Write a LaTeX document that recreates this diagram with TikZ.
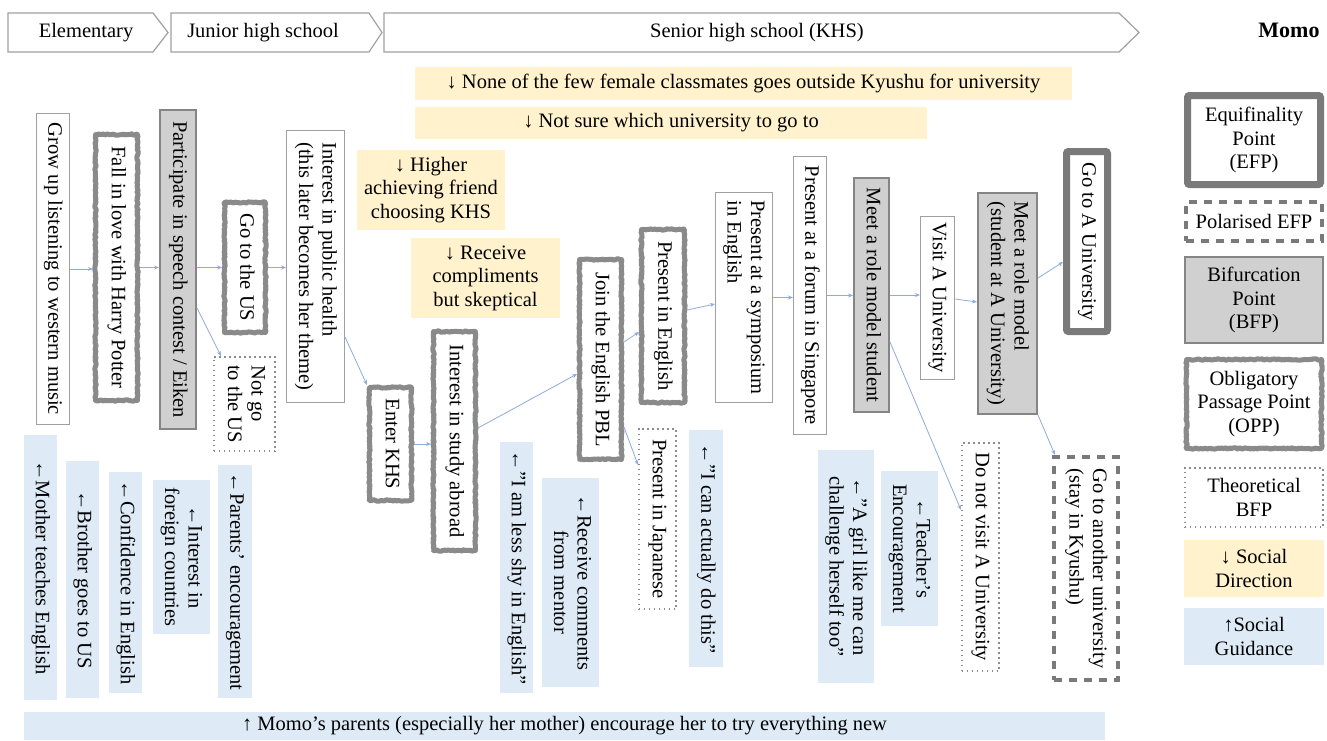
\documentclass[tikz,border=0pt]{standalone}
\usepackage{fontspec}
\setmainfont{Liberation Serif}
\usepackage{graphicx}
\usetikzlibrary{arrows.meta,decorations.pathmorphing,calc}

\definecolor{bordergray}{HTML}{A0A0A0}
\definecolor{oppgray}{HTML}{8A8A8A}
\definecolor{bfpfill}{HTML}{D0D0D0}
\definecolor{bfpborder}{HTML}{858585}
\definecolor{efpgray}{HTML}{7A7A7A}
\definecolor{dotgray}{HTML}{8C8C8C}
\definecolor{sdyellow}{HTML}{FFF2CC}
\definecolor{sgblue}{HTML}{DEEBF7}
\definecolor{connblue}{HTML}{8FAADC}

\newcommand\fs{\fontsize{20.5}{23.5}\selectfont}
\newcommand\rtl[1]{\rotatebox{-90}{\begin{tabular}{@{}l@{}}#1\end{tabular}}}
\newcommand\rtc[1]{\rotatebox{-90}{\begin{tabular}{@{}c@{}}#1\end{tabular}}}

% [inset]{style}{name}{x1}{y1}{x2}{y2}{text}
\newcommand\BX[8][0]{%
  \pgfmathsetmacro\bxcx{(#4+#6)/2}%
  \pgfmathsetmacro\bxcy{(#5+#7)/2}%
  \pgfmathsetmacro\bxw{#6-#4-2*#1}%
  \pgfmathsetmacro\bxh{#7-#5-2*#1}%
  \node[#2, minimum width=\bxw pt, minimum height=\bxh pt, outer sep=#1pt] (#3) at (\bxcx,\bxcy) {#8};}

\tikzset{
  base/.style={inner sep=0pt, font=\fs, align=center},
  plain/.style={base, draw=bordergray, line width=1.2pt, fill=white},
  opp/.style={base, draw=oppgray, line width=5pt, fill=white, line join=round,
    decorate, decoration={random steps, segment length=1.6pt, amplitude=0.7pt}},
  bfp/.style={base, draw=bfpborder, line width=2.4pt, fill=bfpfill},
  efp/.style={base, draw=efpgray, line width=7pt, fill=white, rounded corners=2pt},
  pefp/.style={base, draw=efpgray, line width=4pt, dash pattern=on 8pt off 7pt, fill=white},
  tbfp/.style={base, draw=dotgray, line width=1.6pt, dash pattern=on 1.6pt off 3.4pt, fill=white},
  sdir/.style={base, fill=sdyellow},
  sgui/.style={base, fill=sgblue},
  hdr/.style={draw=bordergray, line width=1.2pt, fill=white},
  conn/.style={draw=connblue, line width=0.8pt, -{Stealth[length=5pt,width=4pt]}},
}

\begin{document}
\begin{tikzpicture}[x=1pt,y=-1pt]
\useasboundingbox (0,0) rectangle (1327,740);
\fill[white] (0,0) rectangle (1327,740);

% ---- header
\draw[hdr] (8,13) -- (153,13) -- (168,32.5) -- (153,52) -- (8,52) -- cycle;
\node[base] (helem) at (86,32.5) {Elementary};
\draw[hdr] (171,13) -- (369,13) -- (382,32.5) -- (369,52) -- (171,52) -- cycle;
\node[base] (hjun) at (263,32.5) {Junior high school};
\draw[hdr] (384,13) -- (1119,13) -- (1139,32.5) -- (1119,52) -- (384,52) -- cycle;
\node[base] (hsen) at (757,32.5) {Senior high school (KHS)};

\node[font=\fontsize{22}{26}\selectfont\bfseries] (momo) at (1289,30) {Momo};

% ---- social direction
\BX{sdir}{sd1}{415}{67}{1072}{100}{↓ None of the few female classmates goes outside Kyushu for university}
\BX{sdir}{sd2}{415}{107}{927}{139}{↓ Not sure which university to go to}
\BX{sdir}{sd3}{357}{150}{505}{230}{↓ Higher\\achieving friend\\choosing KHS}
\BX{sdir}{sd4}{411}{238}{560}{318}{↓ Receive\\compliments\\but skeptical}

% ---- main path
\BX[0.6]{plain}{grow}{36}{113}{70}{425}{\rtl{Grow up listening to western music}}
\BX[2.5]{opp}{fall}{93}{132}{140}{403}{\rtl{Fall in love with Harry Potter}}
\BX[1.2]{bfp}{part}{159}{109}{197}{430}{\rtl{Participate in speech contest / Eiken}}
\BX[2.5]{opp}{gous}{222}{200}{268}{335}{\rtl{Go to the US}}
\BX[0.8]{tbfp}{notgo}{213}{356}{276}{452}{\rtl{Not go\\to the US}}
\BX[0.6]{plain}{health}{286}{130}{345}{403}{\rtl{Interest in public health\\(this later becomes her theme)}}
\BX[2.5]{opp}{enter}{367}{385}{414}{503}{\rtl{Enter KHS}}
\BX[2.5]{opp}{abroad}{431}{329}{478}{553}{\rtl{Interest in study abroad}}
\BX[2.5]{opp}{pbl}{577}{257}{624}{462}{\rtl{Join the English PBL}}
\BX[2.5]{opp}{pe}{639}{227}{687}{405}{\rtl{Present in English}}
\BX[0.8]{tbfp}{pj}{638}{428}{677}{610}{\rtl{Present in Japanese}}
\BX[0.6]{plain}{symp}{715}{192}{773}{403}{\rtl{Present at a symposium\\in English}}
\BX[0.6]{plain}{forum}{793}{156}{827}{435}{\rtl{Present at a forum in Singapore}}
\BX[1.2]{bfp}{role1}{853}{177}{890}{413}{\rtl{Meet a role model student}}
\BX[0.6]{plain}{visit}{920}{216}{955}{380}{\rtl{Visit A University}}
\BX[1.2]{bfp}{role2}{977}{192}{1038}{415}{\rtl{Meet a role model\\(student at A University)}}
\BX[3.5]{efp}{goA}{1063}{148}{1111}{335}{\rtl{Go to A University}}
\BX[0.8]{tbfp}{notvisit}{961}{442}{1000}{672}{\rtl{Do not visit A University}}
\BX[2]{pefp}{another}{1052}{455}{1120}{682}{\rtl{Go to another university\\(stay in Kyushu)}}

% ---- social guidance
\BX{sgui}{sg1}{24}{435}{57}{700}{\rtc{←Mother teaches English}}
\BX{sgui}{sg2}{66}{461}{99}{698}{\rtc{←Brother goes to US}}
\BX{sgui}{sg3}{109}{472}{142}{693}{\rtc{←Confidence in English}}
\BX{sgui}{sg4}{153}{480}{210}{634}{\rtc{←Interest in\\foreign countries}}
\BX{sgui}{sg5}{218}{465}{252}{698}{\rtc{←Parents’ encouragement}}
\BX{sgui}{sg6}{500}{442}{533}{693}{\rtc{←”I am less shy in English”}}
\BX{sgui}{sg7}{542}{478}{599}{687}{\rtc{←Receive comments\\from mentor}}
\BX{sgui}{sg8}{689}{430}{723}{667}{\rtc{←”I can actually do this”}}
\BX{sgui}{sg9}{818}{450}{874}{683}{\rtc{←”A girl like me can\\challenge herself too”}}
\BX{sgui}{sg10}{881}{471}{938}{626}{\rtc{←Teacher’s\\Encouragement}}
\BX{sgui}{sgbar}{24}{712}{1105}{740}{↑ Momo’s parents (especially her mother) encourage her to try everything new}

% ---- legend
\BX[3.5]{efp}{lefp}{1184}{92}{1324}{188}{Equifinality\\Point\\(EFP)}
\BX[2]{pefp}{lpefp}{1184}{200}{1324}{243}{Polarised EFP}
\BX[1.2]{bfp}{lbfp}{1184}{256}{1324}{344}{Bifurcation\\Point\\(BFP)}
\BX[2.5]{opp}{lopp}{1184}{357}{1324}{451}{Obligatory\\Passage Point\\(OPP)}
\BX[0.8]{tbfp}{ltbfp}{1184}{467}{1324}{528}{Theoretical\\BFP}
\BX{sdir}{lsd}{1184}{540}{1324}{597}{↓ Social\\Direction}
\BX{sgui}{lsg}{1184}{608}{1324}{665}{↑Social\\Guidance}

% ---- connectors
\draw[conn] (grow.east) -- (grow.east -| fall.west);
\draw[conn] (fall.east) -- (fall.east -| part.west);
\draw[conn] (gous.west -| part.east) -- (gous.west);
\draw[conn] ([yshift=-38.5pt]part.east) -- ([xshift=8pt]notgo.north west);
\draw[conn] (gous.east) -- (gous.east -| health.west);
\draw[conn] ([yshift=-70.5pt]health.east) -- (enter.north west);
\draw[conn] (enter.east) -- (enter.east -| abroad.west);
\draw[conn] ([yshift=13pt]abroad.east) -- ([yshift=-14.5pt]pbl.west);
\draw[conn] ([yshift=17.5pt]pbl.east) -- ([yshift=-16pt]pe.west);
\draw[conn] ([yshift=-67.5pt]pbl.east) -- ([yshift=54pt]pj.west);
\draw[conn] ([yshift=6pt]pe.east) -- ([yshift=-6.5pt]symp.west);
\draw[conn] (symp.east) -- (symp.east -| forum.west);
\draw[conn] (forum.east) -- (forum.east -| role1.west);
\draw[conn] (role1.east) -- (role1.east -| visit.west);
\draw[conn] ([yshift=-1pt]visit.east) -- ([yshift=1.5pt]role2.west);
\draw[conn] ([yshift=25.5pt]role2.east) -- ([yshift=-20.5pt]goA.west);
\draw[conn] ([yshift=-47pt]role1.east) -- ([yshift=47pt]notvisit.west);
\draw[conn] (role2.south east) -- ([xshift=3pt]another.north west);
\end{tikzpicture}
\end{document}
